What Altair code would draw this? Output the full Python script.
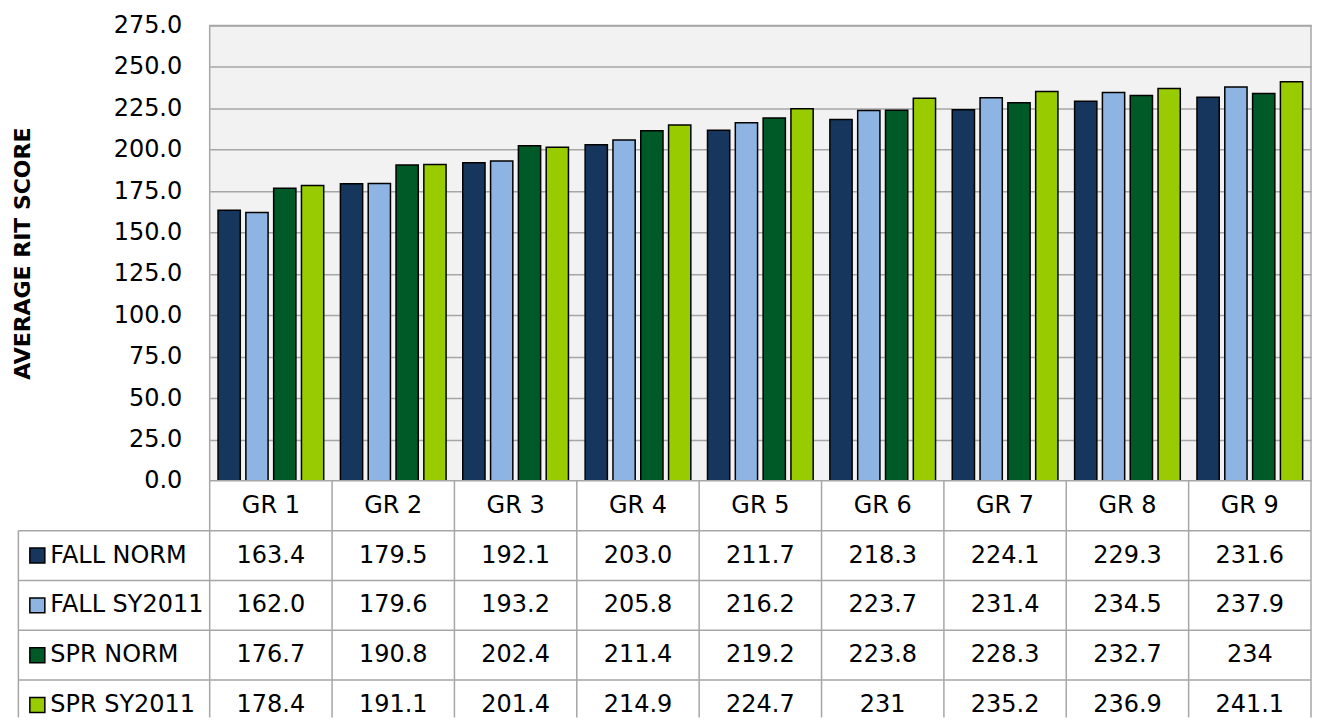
import altair as alt
import pandas as pd

grades = ["GR 1", "GR 2", "GR 3", "GR 4", "GR 5", "GR 6", "GR 7", "GR 8", "GR 9"]
series = ["FALL NORM", "FALL SY2011", "SPR NORM", "SPR SY2011"]
colors = ["#17365d", "#8db4e2", "#005a28", "#99cc00"]

fall_norm = [163.4, 179.5, 192.1, 203.0, 211.7, 218.3, 224.1, 229.3, 231.6]
fall_sy2011 = [162.0, 179.6, 193.2, 205.8, 216.2, 223.7, 231.4, 234.5, 237.9]
spr_norm = [176.7, 190.8, 202.4, 211.4, 219.2, 223.8, 228.3, 232.7, 234]
spr_sy2011 = [178.4, 191.1, 201.4, 214.9, 224.7, 231, 235.2, 236.9, 241.1]

y_ticks = [0, 25, 50, 75, 100, 125, 150, 175, 200, 225, 250, 275]

values = [fall_norm, fall_sy2011, spr_norm, spr_sy2011]

FONT = "DejaVu Sans"
GRID = "#a6a6a6"
PLOT_W = 1103
BAR_H = 456
TABLE_H = 237
GROUP_W = 1111 / 9
LEG_LEFT = -193 / GROUP_W   # legend column left edge, in group units
TABLE_MAX = 4.75            # table y domain (rows of unit height)

rows = []
for si, s in enumerate(series):
    for gi, g in enumerate(grades):
        v = values[si][gi]
        rows.append({
            "grade": g, "series": s, "value": float(v),
            "label": str(v) if isinstance(v, int) else f"{v:.1f}",
            "gx": gi + 0.5, "ry": si + 1.5,
        })
df = pd.DataFrame(rows)

color_scale = alt.Scale(domain=series, range=colors)

bars = alt.Chart(df).mark_bar(stroke="black", strokeWidth=1.5).encode(
    x=alt.X("grade:N", sort=grades, axis=None,
            scale=alt.Scale(paddingInner=0, paddingOuter=0)),
    xOffset=alt.XOffset("series:N", sort=series,
                        scale=alt.Scale(paddingInner=0.2, paddingOuter=0.3)),
    y=alt.Y("value:Q",
            scale=alt.Scale(domain=[0, 275], nice=False, zero=True),
            axis=alt.Axis(values=y_ticks, format=".1f", title="AVERAGE RIT SCORE",
                          ticks=False, domain=False, labelPadding=28,
                          labelFontSize=24, labelFont=FONT, labelColor="black",
                          titleFont=FONT, titleFontSize=22, titleFontWeight="bold",
                          titleColor="black", titlePadding=79,
                          grid=True, gridColor=GRID, gridWidth=1.5)),
    color=alt.Color("series:N", scale=color_scale, legend=None),
).properties(width=PLOT_W, height=BAR_H,
             view=alt.ViewBackground(fill="#f2f2f2", stroke=GRID, strokeWidth=1.5))

# ---- data table below the chart ----
xs = alt.Scale(domain=[0, 9], nice=False, zero=False)
ys = alt.Scale(domain=[0, TABLE_MAX], nice=False, zero=False, reverse=True)

vlines = pd.DataFrame(
    [{"x": i, "y": 0, "y2": TABLE_MAX} for i in range(10)]
    + [{"x": LEG_LEFT, "y": 1, "y2": TABLE_MAX}]
)
hlines = pd.DataFrame(
    [{"y": r, "x": LEG_LEFT, "x2": 9} for r in range(1, 5)]
    + [{"y": 0, "x": 0, "x2": 9}]
)
header = pd.DataFrame({"grade": grades, "gx": [i + 0.5 for i in range(len(grades))],
                       "h": [0.5] * len(grades)})
legend_df = pd.DataFrame({"series": series,
                          "ry": [i + 1.5 for i in range(len(series))],
                          "lx": [LEG_LEFT] * len(series)})

vl = alt.Chart(vlines).mark_rule(color=GRID, strokeWidth=1.5).encode(
    x=alt.X("x:Q", scale=xs, axis=None),
    y=alt.Y("y:Q", scale=ys, axis=None), y2="y2:Q")
hl = alt.Chart(hlines).mark_rule(color=GRID, strokeWidth=1.5).encode(
    x=alt.X("x:Q", scale=xs, axis=None), x2="x2:Q",
    y=alt.Y("y:Q", scale=ys, axis=None))
head_txt = alt.Chart(header).mark_text(font=FONT, fontSize=24, color="black",
                                       baseline="middle").encode(
    x=alt.X("gx:Q", scale=xs, axis=None),
    y=alt.Y("h:Q", scale=ys, axis=None),
    text="grade:N")
val_txt = alt.Chart(df).mark_text(font=FONT, fontSize=24, color="black",
                                  baseline="middle").encode(
    x=alt.X("gx:Q", scale=xs, axis=None),
    y=alt.Y("ry:Q", scale=ys, axis=None),
    text="label:N")
leg_sq = alt.Chart(legend_df).mark_square(size=225, opacity=1, stroke="black",
                                          strokeWidth=1.5, xOffset=19).encode(
    x=alt.X("lx:Q", scale=xs, axis=None),
    y=alt.Y("ry:Q", scale=ys, axis=None),
    color=alt.Color("series:N", scale=color_scale, legend=None))
leg_txt = alt.Chart(legend_df).mark_text(font=FONT, fontSize=24, color="black",
                                         align="left", baseline="middle",
                                         dx=32).encode(
    x=alt.X("lx:Q", scale=xs, axis=None),
    y=alt.Y("ry:Q", scale=ys, axis=None),
    text="series:N")

table = alt.layer(vl, hl, head_txt, val_txt, leg_sq, leg_txt).properties(
    width=PLOT_W, height=TABLE_H,
    view=alt.ViewBackground(fill="white", strokeWidth=0))

chart = alt.vconcat(bars, table, spacing=0, bounds="flush").properties(
    padding={"left": 2, "top": 4, "right": 0, "bottom": 0},
    background="white",
).configure_view(strokeWidth=0).configure_concat(spacing=0)

chart.save("out.html", embed_options={"renderer": "svg", "actions": False})
